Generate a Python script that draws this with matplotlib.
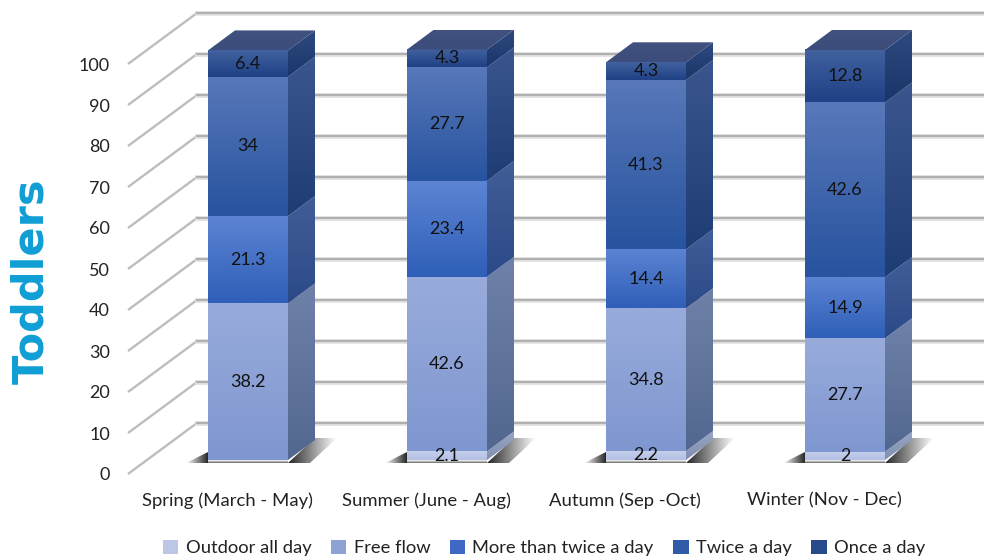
import numpy as np
import matplotlib
matplotlib.use("Agg")
import matplotlib.pyplot as plt
from matplotlib.patches import Polygon, Patch
from matplotlib.colors import to_rgb

categories = ["Spring (March - May)", "Summer (June - Aug)", "Autumn (Sep -Oct)", "Winter (Nov - Dec)"]
series_names = ["Outdoor all day", "Free flow", "More than twice a day", "Twice a day", "Once a day"]
outdoor = [0, 2.1, 2.2, 2]
free_flow = [38.2, 42.6, 34.8, 27.7]
more_than_twice = [21.3, 23.4, 14.4, 14.9]
twice = [34, 27.7, 41.3, 42.6]
once = [6.4, 4.3, 4.3, 12.8]
series = [outdoor, free_flow, more_than_twice, twice, once]
yticks = list(range(0, 101, 10))

legend_colors = ["#bcc7e5", "#8ea2d5", "#3d68c4", "#2f5ca8", "#264a8c"]
front_colors = [("#c6d0ec", "#b3c0e3"), ("#98abdb", "#7f97d0"), ("#5c84d3", "#2f5fb8"),
                ("#5878b9", "#27539f"), ("#41619f", "#1f4185")]
side_colors = [("#98a4c2", "#8090b2"), ("#6f81a9", "#52678f"), ("#425e99", "#2c4a88"),
               ("#3b568f", "#1f3d75"), ("#2e4a80", "#1a3569")]
top_color = ("#3c4c7b", "#42527f")

W, H = 984, 560
plt.rcParams["font.family"] = ["Lato", "DejaVu Sans"]
fig = plt.figure(figsize=(W / 100, H / 100), dpi=100)
L, B, T = 128, 474, 64
ax = fig.add_axes([L / W, (H - B) / H, (W - L) / W, (B - T) / H])
PXX = 199.0
PXY = 4.1
X0 = 227.0
xlim = ((L - X0) / PXX, (W - X0) / PXX)
ax.set_xlim(*xlim)
ax.set_ylim(0, 100)
ax.patch.set_alpha(0)
for s in ax.spines.values():
    s.set_visible(False)


def px(dx, dy):
    return dx / PXX, dy / PXY


def grad(x0, x1, y0, y1, c_top=None, c_bot=None, clip=None, z=3, rgba=None):
    if rgba is not None:
        img = rgba
    else:
        t = np.linspace(0, 1, 64)[:, None, None]
        a, b = np.array(to_rgb(c_top))[None, None, :], np.array(to_rgb(c_bot))[None, None, :]
        img = a * (1 - t) + b * t
    im = ax.imshow(img, extent=(x0, x1, y0, y1), origin="upper", aspect="auto",
                   zorder=z, interpolation="bilinear")
    if clip is not None:
        poly = Polygon(clip, closed=True, transform=ax.transData, fc="none", ec="none")
        ax.add_patch(poly)
        poly.set_clip_on(False)
        im.set_clip_path(poly)
        im.set_clip_box(fig.bbox)
    else:
        im.set_clip_on(False)
    return im


# walls: slanted lines on the left wall and horizontals on the back wall
bx, by = px(69, 51)
for v in yticks:
    ax.plot([xlim[0], xlim[0] + bx], [v, v + by], color="#bdbdbd", lw=1.7, clip_on=False, zorder=1,
            solid_capstyle="butt")
    ax.plot([xlim[0] + bx, xlim[1]], [v + by, v + by], color="#e0e0e0", lw=3.4, clip_on=False, zorder=1)
    ax.plot([xlim[0] + bx, xlim[1]], [v + by, v + by], color="#b0b0b0", lw=1.5, clip_on=False, zorder=1)

# bars in an oblique projection
offx, offy = px(21, 14)
wx, _ = px(80, 0)
dx, dy = px(27, 20)
ramp = np.zeros((2, 64, 4))
ramp[..., 3] = np.linspace(0.85, 0.0, 64)
fade = np.zeros((16, 2, 4))
fade[..., 3] = np.linspace(0.0, 0.6, 16)[:, None]
for i in range(len(categories)):
    x0 = i + offx - wx / 2
    x1 = x0 + wx
    # floor shadow
    a = px(22, 0)[0]
    low, high = offy + px(0, -3)[1], offy + dy + px(0, 2)[1]
    sh = [(x1, low), (x1 + dx, high), (x1 + dx + a, high), (x1 + a, low)]
    grad(x1, x1 + dx + a, high, low, clip=sh, z=2, rgba=ramp)
    strip = [(x0 - a, low), (x0, offy + px(0, 8)[1]), (x0, low)]
    grad(x0 - a, x0, offy + px(0, 8)[1], low, clip=strip, z=2, rgba=ramp[:, ::-1, :])
    grad(x0, x1, offy, low, z=2, rgba=fade[::-1])

    base = 0.0
    for k, vals in enumerate(series):
        v = vals[i]
        if v == 0:
            continue
        y0, y1 = base + offy, base + v + offy
        grad(x0, x1, y0, y1, *front_colors[k], z=4)
        side = [(x1, y0), (x1 + dx, y0 + dy), (x1 + dx, y1 + dy), (x1, y1)]
        grad(x1, x1 + dx, y0, y1 + dy, *side_colors[k], clip=side, z=3)
        ax.text((x0 + x1) / 2, (y0 + y1) / 2, f"{v:g}", ha="center", va="center",
                fontsize=13, color="#111111", zorder=6, clip_on=False)
        base += v
    top = base + offy
    tp = [(x0, top), (x1, top), (x1 + dx, top + dy), (x0 + dx, top + dy)]
    grad(x0, x1 + dx, top + dy, top, *top_color, clip=tp, z=5)

ax.set_xlim(*xlim)
ax.set_ylim(0, 100)
ax.set_yticks(yticks)
ax.set_xticks(range(len(categories)))
ax.set_xticklabels(categories, fontsize=13.3, color="#222222")
ax.tick_params(axis="x", length=0, pad=13.5)
ax.tick_params(axis="y", length=0, pad=13, labelsize=13, labelcolor="#222222")
ax.set_ylabel("Toddlers", fontsize=31, fontweight="bold", color="#0f9ed5", family=["DejaVu Sans"])
ax.yaxis.set_label_coords((52 - L) / (W - L), 0.5 - (281 - (B + T) / 2) / (B - T))

handles = [Patch(facecolor=c, edgecolor="none", label=n) for c, n in zip(legend_colors, series_names)]
leg = ax.legend(handles=handles, ncol=5, loc="center", frameon=False, fontsize=13.2,
                bbox_to_anchor=(544 / W, (H - 548) / H), bbox_transform=fig.transFigure,
                handlelength=0.85, handleheight=0.85, handletextpad=0.4, columnspacing=1.05,
                labelcolor="#222222")

fig.savefig("out.png", dpi=100, facecolor="white")
